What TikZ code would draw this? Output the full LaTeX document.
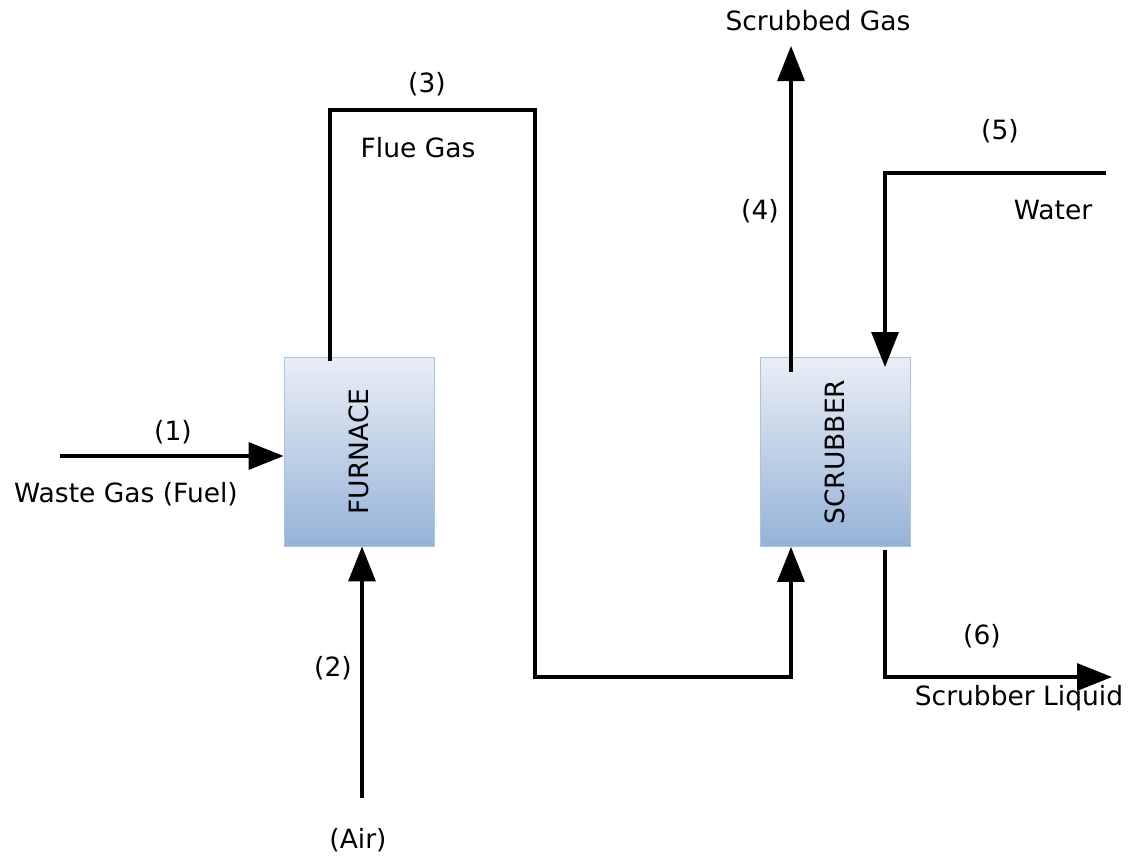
\documentclass[tikz,border=0pt]{standalone}
\usepackage{fontspec}
\setmainfont{DejaVu Sans}
\usetikzlibrary{arrows.meta}
\definecolor{boxtop}{HTML}{EAEEF6}
\definecolor{boxbot}{HTML}{95B3D7}
\definecolor{boxedge}{HTML}{A9C3E6}
\begin{document}
\begin{tikzpicture}[x=1pt,y=-1pt,
  unit/.style={draw=boxedge,line width=0.8pt,top color=boxtop,bottom color=boxbot,
    minimum width=150pt,minimum height=189pt,inner sep=0pt},
  flow/.style={line width=3.2pt},
  tip/.style={-{Triangle[length=35pt,width=27pt]}},
  lbl/.style={font=\fontsize{26.5}{30}\selectfont,inner sep=0pt}]
\useasboundingbox (0,0) rectangle (1129,855);
% units
\node[unit] (furnace) at (359,451.5) {};
\node[lbl,rotate=90] (furnacetxt) at (furnace.center) {FURNACE};
\node[unit] (scrubber) at (835,452) {};
\node[lbl,rotate=90] (scrubbertxt) at (scrubber.center) {SCRUBBER};
% free ends
\coordinate (s1) at (60,456);
\coordinate (s2) at (362,798);
\coordinate (s3) at (330,361);
\coordinate (c3a) at (330,110);
\coordinate (c3b) at (535,110);
\coordinate (c3c) at (535,677);
\coordinate (c3d) at (791,677);
\coordinate (s4) at (791,372);
\coordinate (e4) at (791,46);
\coordinate (s5) at (1106,173);
\coordinate (c5) at (885,173);
\coordinate (s6) at (885,550);
\coordinate (c6) at (885,677);
\coordinate (e6) at (1112,677);
% streams
\draw[flow,tip] (s1) -- (s1 -| furnace.west);
\draw[flow,tip] (s2) -- (s2 |- furnace.south);
\draw[flow,tip] (s3) -- (c3a) -- (c3b) -- (c3c) -- (c3d) -- (c3d |- scrubber.south);
\draw[flow,tip] (s4) -- (e4);
\draw[flow,tip] (s5) -- (c5) -- (c5 |- 0,367);
\draw[flow,tip] (s6) -- (c6) -- (e6);
% labels
\node[lbl] (l1) at (173,432) {(1)};
\node[lbl] (n1) at (126,494) {Waste Gas (Fuel)};
\node[lbl] (l2) at (333,668) {(2)};
\node[lbl] (n2) at (358,840) {(Air)};
\node[lbl] (l3) at (427,84) {(3)};
\node[lbl] (n3) at (418,148) {Flue Gas};
\node[lbl] (l4) at (760,211) {(4)};
\node[lbl] (n4) at (818,21) {Scrubbed Gas};
\node[lbl] (l5) at (1000,131) {(5)};
\node[lbl] (n5) at (1053,210) {Water};
\node[lbl] (l6) at (982,636) {(6)};
\node[lbl] (n6) at (1019,698) {Scrubber Liquid};
\end{tikzpicture}
\end{document}
